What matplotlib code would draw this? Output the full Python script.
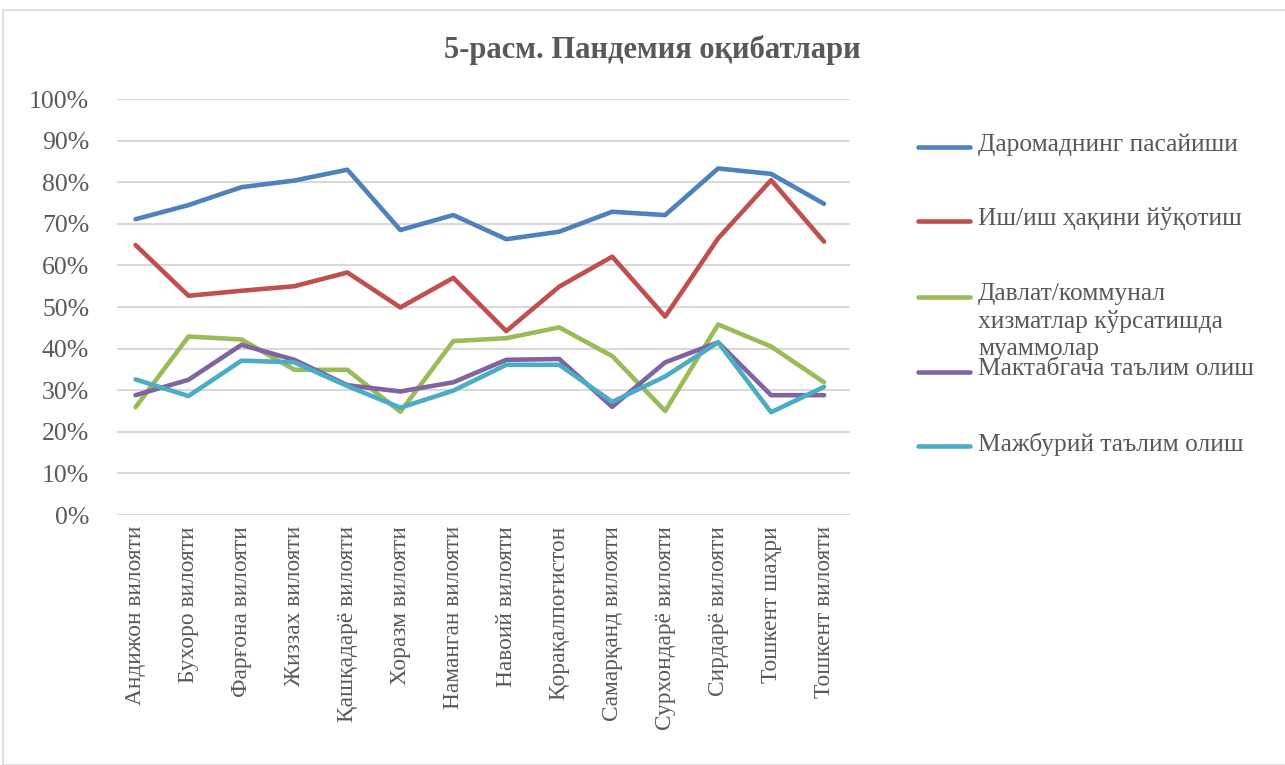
import matplotlib
matplotlib.use("Agg")
import matplotlib.pyplot as plt
from matplotlib.ticker import PercentFormatter
from matplotlib.lines import Line2D
from matplotlib.patches import Rectangle

plt.rcParams['font.family'] = ['Liberation Serif', 'DejaVu Serif']

# вилоятлар
regions = ['Андижон вилояти', 'Бухоро вилояти', 'Фарғона вилояти', 'Жиззах вилояти',
           'Қашқадарё вилояти', 'Хоразм вилояти', 'Наманган вилояти', 'Навоий вилояти',
           'Қорақалпоғистон', 'Самарқанд вилояти', 'Сурхондарё вилояти', 'Сирдарё вилояти',
           'Тошкент шаҳри', 'Тошкент вилояти']

income = [71.1, 74.5, 78.8, 80.4, 83.0, 68.5, 72.1, 66.3, 68.1, 72.9, 72.1, 83.3, 82.0, 74.8]
job_loss = [64.9, 52.7, 53.9, 55.0, 58.3, 49.9, 57.0, 44.2, 54.9, 62.1, 47.7, 66.5, 80.5, 65.7]
services = [25.9, 42.9, 42.2, 34.9, 34.9, 24.8, 41.8, 42.5, 45.1, 38.2, 25.0, 45.8, 40.5, 31.9]
preschool = [28.8, 32.5, 40.9, 37.3, 31.2, 29.7, 31.9, 37.3, 37.5, 26.0, 36.7, 41.5, 28.8, 28.8]
school = [32.6, 28.6, 37.1, 36.7, 31.0, 25.8, 29.9, 36.1, 36.1, 27.2, 33.3, 41.5, 24.7, 30.8]

series_names = ['Даромаднинг пасайиши', 'Иш/иш ҳақини йўқотиш',
                'Давлат/коммунал\nхизматлар кўрсатишда\nмуаммолар',
                'Мактабгача таълим олиш', 'Мажбурий таълим олиш']
colors = ['#4F81BD', '#C0504D', '#9BBB59', '#8064A2', '#4BACC6']

fig = plt.figure(figsize=(12.85, 7.65), dpi=100)
ax = fig.add_axes([117 / 1285, 1 - 515 / 765, (850 - 117) / 1285, (515 - 99) / 765])

x = list(range(len(regions)))
all_series = [income, job_loss, services, preschool, school]
for vals, c in zip(all_series, colors):
    ax.plot(x, [v / 100 for v in vals], color=c, lw=3.3, solid_capstyle='round',
            solid_joinstyle='round', zorder=3)

ax.set_ylim(0, 1)
ax.set_xlim(-0.35, 13.49)
ax.set_yticks([i / 10 for i in range(11)])
ax.yaxis.set_major_formatter(PercentFormatter(1.0, decimals=0))
ax.set_xticks(x)
ax.set_xticklabels(regions, rotation=90)
ax.tick_params(axis='both', length=0, colors='#595959')
ax.tick_params(axis='y', pad=20, labelsize=18.5)
ax.tick_params(axis='x', pad=8, labelsize=16.8)
ax.grid(axis='y', color='#d9d9d9', lw=1.5, zorder=0)
for s in ax.spines.values():
    s.set_visible(False)

fig.text(652 / 1285, 1 - 50 / 765, '5-расм. Пандемия оқибатлари', ha='center', va='center',
         fontsize=22, fontweight='bold', color='#595959')

# легенда
leg_y = [147, 221, 297, 372, 446]
for name, c, yy in zip(series_names, colors, leg_y):
    fy = 1 - yy / 765
    fig.add_artist(Line2D([918 / 1285, 970 / 1285], [fy, fy], color=c, lw=3.3,
                          solid_capstyle='round', transform=fig.transFigure))
    fig.text(978 / 1285, fy + 14 / 765, name, ha='left', va='top', fontsize=18.4,
             color='#595959', linespacing=1.3)

fig.add_artist(Rectangle((3 / 1285, 0.0), 1.0, 1 - 10 / 765, transform=fig.transFigure,
                         fill=False, edgecolor='#d9d9d9', lw=1.2))

fig.savefig('out.png', dpi=100)
